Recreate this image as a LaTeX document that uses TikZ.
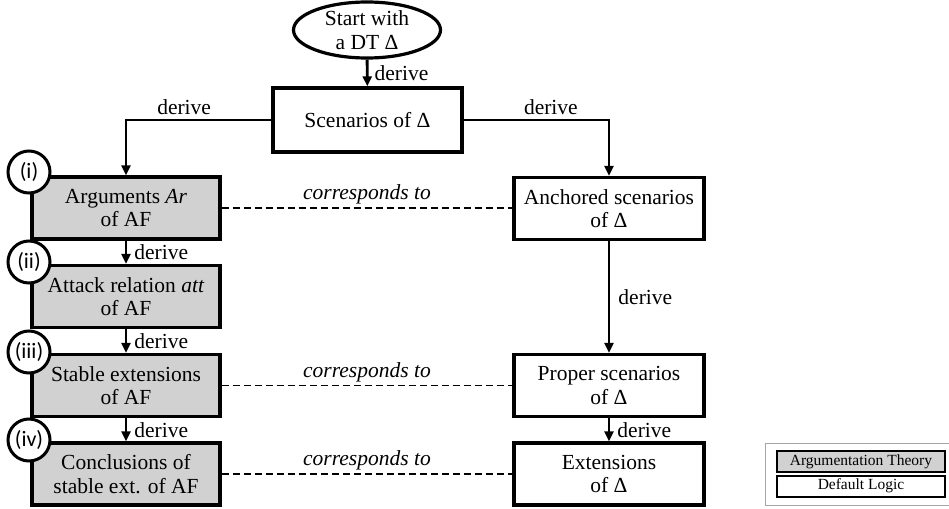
\documentclass[tikz,border=0pt]{standalone}
\usepackage{fontspec}
\setmainfont{Liberation Serif}
\newfontfamily\labelfont{Carlito}
\usetikzlibrary{arrows.meta,shapes.geometric}

\definecolor{argfill}{gray}{0.82}

\tikzset{
  box/.style={draw, line width=3.4pt, minimum width=188pt, minimum height=62pt,
    align=center, inner sep=2pt, font=\fontsize{21.5}{23.5}\selectfont},
  argbox/.style={box, fill=argfill},
  startnode/.style={draw, ellipse, line width=3.2pt, minimum width=147pt,
    minimum height=56pt, inner sep=0pt, align=center, font=\fontsize{21.5}{23.5}\selectfont},
  flow/.style={line width=2.9pt, -{Triangle[length=10pt,width=9pt]}},
  corr/.style={line width=1.5pt, dash pattern=on 7pt off 4pt},
  lbl/.style={font=\fontsize{21.5}{23.5}\selectfont, inner sep=1pt},
  corrlbl/.style={font=\fontsize{21.5}{23.5}\selectfont\itshape, inner sep=1pt},
  stepmark/.style={draw, circle, line width=3pt, fill=white, minimum size=42pt,
    inner sep=0pt, font=\labelfont\fontsize{22}{24}\selectfont},
  legendbox/.style={draw, line width=2pt, minimum width=168pt, minimum height=21pt,
    inner sep=0pt, font=\fontsize{15.5}{17}\selectfont},
}

\begin{document}
\begin{tikzpicture}[x=1pt, y=-1pt]
  \useasboundingbox (0,0) rectangle (949,508);

  % start and common derivation
  \node[startnode] (start) at (367,30) {Start with\\a DT Δ};
  \node[box, minimum width=189pt, minimum height=64pt] (scen) at (367.5,120) {Scenarios of Δ};

  % argumentation side
  \node[argbox] (args) at (126,208) {Arguments \textit{Ar}\\of AF};
  \node[argbox] (att)  at (126,296.5) {Attack relation \textit{att}\\of AF};
  \node[argbox] (stab) at (126,385.5) {Stable extensions\\of AF};
  \node[argbox] (conc) at (126,474) {Conclusions of\\stable ext. of AF};

  % default logic side
  \node[box, minimum width=190pt] (anch) at (609,208.5) {Anchored scenarios\\of Δ};
  \node[box, minimum width=190pt] (prop) at (609,385.5) {Proper scenarios\\of Δ};
  \node[box, minimum width=190pt] (ext)  at (609,474) {Extensions\\of Δ};

  % step markers
  \node[stepmark] (s1) at (29,172) {(i)};
  \node[stepmark] (s2) at (29,262) {(ii)};
  \node[stepmark] (s3) at (29,352) {(iii)};
  \node[stepmark] (s4) at (29,440) {(iv)};

  % derivations
  \draw[flow] (start) -- (scen) node[lbl, midway, right=5pt] {derive};
  \draw[flow] (scen.west) -| (args.north) node[lbl, pos=0.3, above=3pt] {derive};
  \draw[flow] (scen.east) -| (anch.north) node[lbl, pos=0.3, above=3pt] {derive};
  \draw[flow] (args) -- (att) node[lbl, midway, right=6pt] {derive};
  \draw[flow] (att) -- (stab) node[lbl, midway, right=6pt] {derive};
  \draw[flow] (stab) -- (conc) node[lbl, midway, right=6pt] {derive};
  \draw[flow] (anch) -- (prop) node[lbl, midway, right=7pt] {derive};
  \draw[flow] (prop) -- (ext) node[lbl, midway, right=6pt] {derive};

  % correspondences
  \draw[corr] (args.east) -- (anch.west |- args.east) node[corrlbl, midway, above=2pt] {corresponds to};
  \draw[corr] (stab.east) -- (prop.west) node[corrlbl, midway, above=2pt] {corresponds to};
  \draw[corr] (conc.east) -- (ext.west) node[corrlbl, midway, above=2pt] {corresponds to};

  % legend
  \node[draw=black!35, line width=1.4pt, minimum width=190pt, minimum height=62pt,
        anchor=north west, inner sep=0pt] (legend) at (765,443) {};
  \node[legendbox, fill=argfill] (legarg) at (861,461.5) {Argumentation Theory};
  \node[legendbox] (legdl) at (861,486) {Default Logic};
\end{tikzpicture}
\end{document}
